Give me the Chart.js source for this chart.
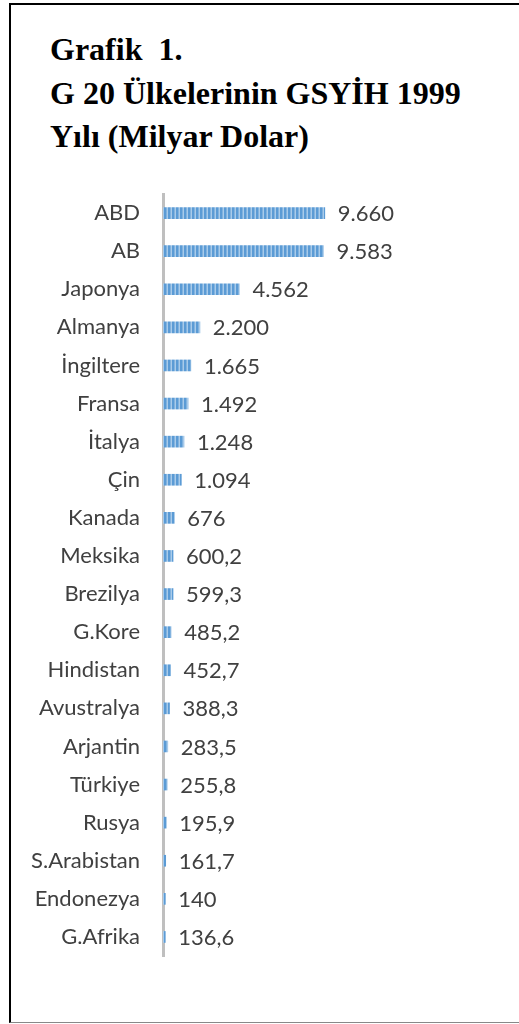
<!DOCTYPE html>
<html>
<head>
<meta charset="utf-8">
<script src="https://cdn.jsdelivr.net/npm/chart.js@4"></script>
<style>
  html, body { margin: 0; padding: 0; background: #fff; }
  body { width: 519px; height: 1024px; position: relative; overflow: hidden; }
  #frame {
    position: absolute; left: 9px; top: 3px; width: 620px; height: 1017px;
    border-left: 2px solid #000; border-top: 2px solid #000; border-bottom: 1px solid #888;
  }
  #title {
    position: absolute; left: 50px; top: 28px;
    font-family: "Liberation Serif", "Times New Roman", serif; font-weight: bold;
    font-size: 32px; line-height: 43.5px; color: #000;
  }
  #chart { position: absolute; left: 0; top: 0; }
</style>
</head>
<body>
<div id="frame"></div>
<div id="title">Grafik&nbsp; 1.<br>G 20 Ülkelerinin GSYİH 1999<br>Yılı (Milyar Dolar)</div>
<canvas id="chart" width="519" height="1024"></canvas>
<script>
// G20 GSYIH 1999, milyar dolar
const ulkeler = ['ABD', 'AB', 'Japonya', 'Almanya', 'İngiltere', 'Fransa', 'İtalya', 'Çin',
  'Kanada', 'Meksika', 'Brezilya', 'G.Kore', 'Hindistan', 'Avustralya', 'Arjantin',
  'Türkiye', 'Rusya', 'S.Arabistan', 'Endonezya', 'G.Afrika'];
const gsyih = [9660, 9583, 4562, 2200, 1665, 1492, 1248, 1094, 676, 600.2, 599.3, 485.2,
  452.7, 388.3, 283.5, 255.8, 195.9, 161.7, 140, 136.6];

const koyu = '#5B9BD5'
const acik = '#A9CBEA'
const yazi = '#404040'
const font = 'Lato, "Open Sans", sans-serif'

// cizgili dolgu
function cizgiDeseni() {
  const c = document.createElement('canvas');
  c.width = 4; c.height = 1;
  const g = c.getContext('2d');
  g.fillStyle = acik; g.fillRect(0, 0, 4, 1);
  g.fillStyle = koyu; g.fillRect(0, 0, 2.5, 1);
  return g.createPattern(c, 'repeat');
}

// 9.660 / 600,2 gibi
function bicim(v) {
  const parts = String(v).split('.');
  const tam = parts[0].replace(/\B(?=(\d{3})+(?!\d))/g, '.');
  return parts.length > 1 ? tam + ',' + parts[1] : tam;
}

const degerEtiketi = {
  id: 'degerEtiketi',
  afterDatasetsDraw(chart) {
    const ctx = chart.ctx;
    const meta = chart.getDatasetMeta(0);
    ctx.save();
    ctx.font = '22px ' + font;
    ctx.fillStyle = yazi;
    ctx.textBaseline = 'middle';
    ctx.textAlign = 'left';
    meta.data.forEach((bar, i) => {
      ctx.fillText(bicim(gsyih[i]), bar.x + 13, bar.y + 1);
    });
    ctx.restore();
  }
};

const ctx = document.getElementById('chart').getContext('2d');
new Chart(ctx, {
  type: 'bar',
  data: {
    labels: ulkeler,
    datasets: [{
      data: gsyih,
      backgroundColor: cizgiDeseni(),
      borderWidth: 0,
      barThickness: 11,
    }]
  },
  options: {
    indexAxis: 'y',
    responsive: false,
    animation: false,
    layout: { padding: { top: 194, bottom: 68, left: 0, right: 21 } },
    scales: {
      x: {
        display: false,
        min: 0,
        max: 20000,
      },
      y: {
        afterFit: (scale) => { scale.width = 163; },
        grid: { display: false, drawTicks: false },
        border: { display: true, color: '#BFBFBF', width: 3 },
        ticks: {
          padding: 23,
          color: yazi,
          font: { family: font, size: 22 },
        }
      }
    },
    plugins: {
      legend: { display: false },
      tooltip: { enabled: false },
    }
  },
  plugins: [degerEtiketi]
});
</script>
</body>
</html>
